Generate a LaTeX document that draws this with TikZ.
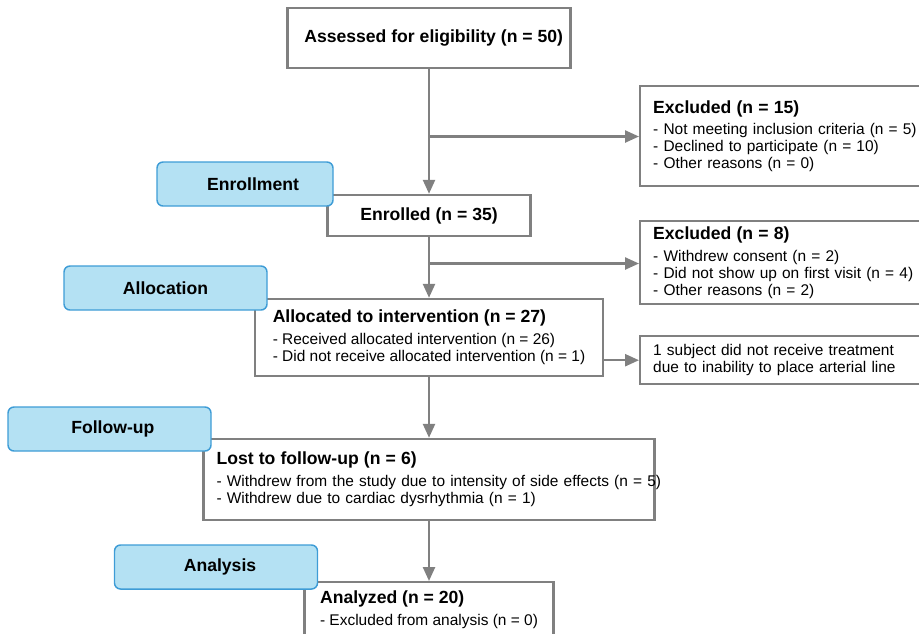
\documentclass[tikz,border=0pt]{standalone}
\usepackage{fontspec}
\setmainfont{Liberation Sans}
\usetikzlibrary{arrows.meta}
\definecolor{boxgray}{RGB}{128,128,128}
\definecolor{phasefill}{RGB}{180,225,243}
\definecolor{phaseline}{RGB}{62,156,214}
\newcommand{\hd}[1]{{\fontsize{13.2}{16}\selectfont\bfseries #1}}
\tikzset{every picture/.style={line width=0.75pt},
  flowbox/.style={draw=boxgray,line width=1.8pt,fill=white,inner sep=0pt,font=\fontsize{11.6}{12.75}\selectfont},
  headbox/.style={flowbox,font=\fontsize{13.2}{16}\selectfont\bfseries},
  phasebox/.style={draw=phaseline,fill=phasefill,rounded corners=4.5pt,line width=1.1pt,inner sep=0pt,minimum height=33pt,font=\fontsize{13.2}{16}\selectfont\bfseries},
  flowarrow/.style={draw=boxgray,line width=1.8pt,-{Triangle[length=10.5pt,width=9pt]}}}

\begin{document}
\begin{tikzpicture}[x=0.75pt,y=0.75pt,yscale=-1,xscale=1]
\useasboundingbox (0,0) rectangle (919,633);
\clip (0,0) rectangle (919,633);
%Shape: Box [id:assess]
\node[headbox, minimum width=212.25pt, minimum height=45pt] (assess) at (429,38) {\hspace{7pt}Assessed for eligibility (n = 50)};
%Shape: Box [id:excl1]
\node[flowbox, anchor=north west, text width=215pt, inner xsep=9.75pt, minimum height=75pt, align=left] (excl1) at (639,85)
  {\hd{Excluded (n = 15)}\\[3.5pt]- Not meeting inclusion criteria (n = 5)\\- Declined to participate (n = 10)\\- Other reasons (n = 0)};
%Shape: Box [id:enrol]
\node[headbox, minimum width=152.25pt, minimum height=30.75pt] (enrol) at (429,215.5) {Enrolled (n = 35)};
%Shape: Box [id:excl2]
\node[flowbox, anchor=north west, text width=215pt, inner xsep=9.75pt, minimum height=62.25pt, align=left] (excl2) at (639,220)
  {\hd{Excluded (n = 8)}\\[3.5pt]- Withdrew consent (n = 2)\\- Did not show up on first visit (n = 4)\\- Other reasons (n = 2)};
%Shape: Box [id:alloc]
\node[flowbox, minimum width=261pt, minimum height=57.75pt, align=left] (alloc) at (429,337.5)
  {\hd{Allocated to intervention (n = 27)}\\[3.5pt]- Received allocated intervention (n = 26)\\- Did not receive allocated intervention (n = 1)};
%Shape: Box [id:treat]
\node[flowbox, anchor=north west, text width=215pt, inner xsep=9.75pt, minimum height=36pt, align=left] (treat) at (639,335)
  {1 subject did not receive treatment\\due to inability to place arterial line};
%Shape: Box [id:lost]
\node[flowbox, text width=318.75pt, inner xsep=9.75pt, minimum height=60.75pt, align=left] (lost) at (429,479.5)
  {\hd{Lost to follow-up (n = 6)}\\[3.5pt]\leavevmode\rlap{- Withdrew from the study due to intensity of side effects (n = 5)}\\- Withdrew due to cardiac dysrhythmia (n = 1)};
%Shape: Box [id:analyzed]
\node[flowbox, anchor=north, minimum width=186.75pt, inner ysep=6.75pt, align=left] (analyzed) at (429,581)
  {\hd{Analyzed (n = 20)}\\[3.5pt]- Excluded from analysis (n = 0)};

% Connectors
\coordinate (fork1) at (429,136.5);
\coordinate (fork2) at (429,263.5);
\draw[flowarrow] (assess.south) -- (enrol.north);
\draw[flowarrow] (fork1) -- (fork1 -| excl1.west);
\draw[flowarrow] (enrol.south) -- (alloc.north);
\draw[flowarrow] (fork2) -- (fork2 -| excl2.west);
\draw[flowarrow] (treat.west -| alloc.east) -- (treat.west);
\draw[flowarrow] (alloc.south) -- (lost.north);
\draw[flowarrow] (lost.south) -- (analyzed.north);

% Phase labels
\node[phasebox, minimum width=132pt] (enrolment) at (245,184) {\hspace{12pt}Enrollment};
\node[phasebox, minimum width=152.25pt] (allocation) at (165.5,288) {Allocation};
\node[phasebox, minimum width=152.25pt] (followup) at (109.5,429) {\hspace{5pt}Follow-up};
\node[phasebox, minimum width=152.25pt] (analysis) at (216,567) {\hspace{6pt}Analysis};
\end{tikzpicture}
\end{document}
